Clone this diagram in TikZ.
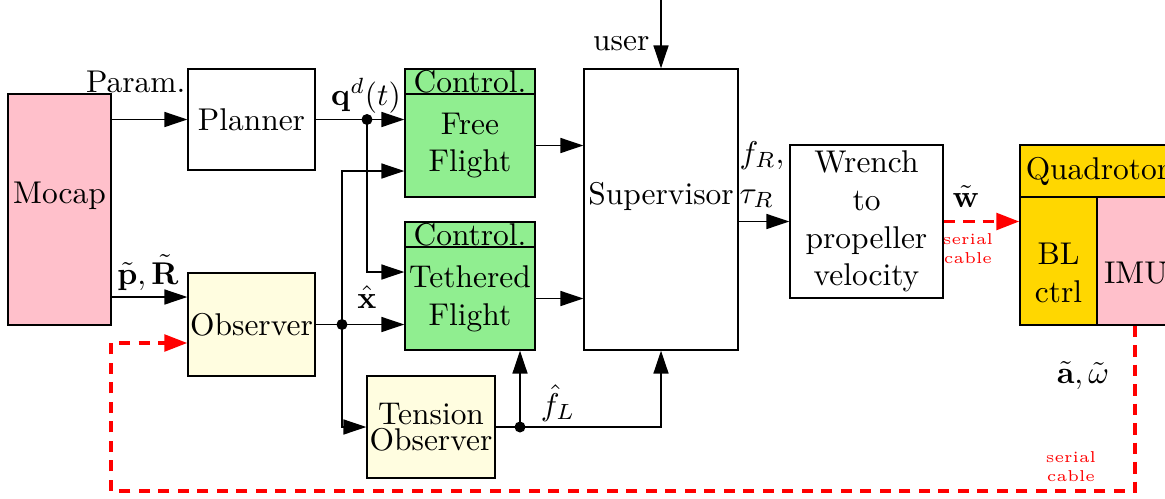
\documentclass[tikz,border=0pt]{standalone}
\usetikzlibrary{arrows.meta,calc}
\definecolor{mpink}{HTML}{FFC0CB}
\definecolor{mgreen}{HTML}{90EE90}
\definecolor{myellow}{HTML}{FFFDE0}
\definecolor{mgold}{HTML}{FFD700}
\def\pxu{0.318pt}
\begin{document}
\begin{tikzpicture}[x=0.318pt,y=-0.318pt,
  box/.style={draw, line width=0.45pt, inner sep=0pt, align=center},
  arr/.style={line width=0.45pt, -{Triangle[length=7.3pt,width=4.8pt]}},
  rarr/.style={draw=red, line width=1.1pt, dash pattern=on 3.6pt off 2.6pt, -{Triangle[length=7.3pt,width=5.3pt,sep=0pt]}, red},
  dot/.style={circle, fill, inner sep=0pt, minimum size=3.5pt},
  lbl/.style={inner sep=0pt},
  small/.style={inner sep=0pt, text=red, font=\tiny, align=center}]
\useasboundingbox (0,0) rectangle (1165,498);
\clip (0,0) rectangle (1165,498);
% boxes
\node[box, fill=mpink, minimum width=103*\pxu, minimum height=231*\pxu] (mocap) at (59.5,209.5) {};
\node[lbl] at (59.5,196) {Mocap};
\node[box, minimum width=127*\pxu, minimum height=101*\pxu] (planner) at (251.5,119.5) {Planner};
\node[box, fill=mgreen, minimum width=130*\pxu, minimum height=25*\pxu] (ffhead) at (470,81.5) {Control.};
\node[box, fill=mgreen, minimum width=130*\pxu, minimum height=103*\pxu] (ff) at (470,145.5) {Free\\Flight};
\node[box, fill=mgreen, minimum width=130*\pxu, minimum height=25*\pxu] (tfhead) at (470,234.5) {Control.};
\node[box, fill=mgreen, minimum width=130*\pxu, minimum height=103*\pxu] (tf) at (470,298.5) {Tethered\\Flight};
\node[box, fill=myellow, minimum width=127*\pxu, minimum height=103*\pxu] (observer) at (251.5,324.5) {Observer};
\node[box, fill=myellow, minimum width=128*\pxu, minimum height=102*\pxu] (tension) at (431,427) {Tension\\[-3.8pt]Observer};
\node[box, minimum width=154*\pxu, minimum height=281*\pxu] (sup) at (661,209.5) {};
\node[lbl] at (661,196) {Supervisor};
\node[box, minimum width=153*\pxu, minimum height=153*\pxu] (wrench) at (866.5,221.5) {Wrench\\to\\propeller\\velocity};
\node[box, fill=mgold, minimum width=155*\pxu, minimum height=52*\pxu] (quad) at (1097.5,171) {Quadrotor};
\node[box, fill=mgold, minimum width=77*\pxu, minimum height=128*\pxu] (blctrl) at (1058.5,261) {};
\node[lbl, align=center] at (1058.5,273) {BL\\ctrl};
\node[box, fill=mpink, minimum width=78*\pxu, minimum height=128*\pxu] (imu) at (1136,261) {};
\node[lbl] at (1136,273) {IMU};
% dots
\node[dot] (d1) at (367,119.5) {};
\node[dot] (d2) at (342,324.5) {};
\node[dot] (d3) at (520,427) {};
% coordinates
\coordinate (c1) at (367,272);
\coordinate (c2) at (150,297);
\coordinate (c3) at (342,171);
\coordinate (utop) at (661,-2);
\coordinate (c4) at (1135,491);
\coordinate (c5) at (111,491);
\coordinate (c6) at (111,343);
% connectors
\draw[arr] (mocap.east |- planner.west) -- (planner.west);
\draw[line width=0.45pt] (planner.east) -- (d1.center);
\draw[arr] (d1.center) -- (d1 -| ff.west);
\draw[arr] (d1.center) -- (c1) -- (c1 -| tf.west);
\draw[arr] (c2 -| mocap.east) -- (c2 -| observer.west);
\draw[line width=0.45pt] (observer.east) -- (d2.center);
\draw[arr] (d2.center) -- (d2 -| tf.west);
\draw[arr] (d2.center) -- (c3) -- (c3 -| ff.west);
\draw[arr] (d2.center) |- (tension.west);
\draw[line width=0.45pt] (tension.east) -- (d3.center);
\draw[arr] (d3.center) -| (sup.south);
\draw[arr] (d3.center) -- (d3 |- tf.south);
\draw[arr] (ff.east) -- (ff.east -| sup.west);
\draw[arr] (tf.east) -- (tf.east -| sup.west);
\draw[arr] (utop) -- (sup.north);
\draw[arr] (sup.east |- wrench.west) -- (wrench.west);
\draw[rarr] (wrench.east) -- (wrench.east -| blctrl.west);
\draw[rarr] (imu.south -| c4) -- (c4) -- (c5) -- (c6) -- (c6 -| observer.west);
% labels
\node[lbl, anchor=base east] at (186,92) {Param.};
\node[lbl, anchor=base] at (366,105) {$\mathbf{q}^d(t)$};
\node[lbl, anchor=base] at (148,284) {$\tilde{\mathbf{p}},\tilde{\mathbf{R}}$};
\node[lbl, anchor=base] at (367,308) {$\hat{\mathbf{x}}$};
\node[lbl, anchor=base] at (558,415) {$\hat{f}_L$};
\node[lbl, anchor=base east] at (650,50) {user};
\node[lbl, anchor=base west] at (739,163) {$f_R,$};
\node[lbl, anchor=base west] at (739,203) {$\tau_R$};
\node[lbl, anchor=base] at (966,207) {$\tilde{\mathbf{w}}$};
\node[small] at (968,249) {serial\\cable};
\node[lbl, anchor=base] at (1083,383) {$\tilde{\mathbf{a}},\tilde{\omega}$};
\node[small] at (1071,467) {serial\\cable};
\end{tikzpicture}
\end{document}
